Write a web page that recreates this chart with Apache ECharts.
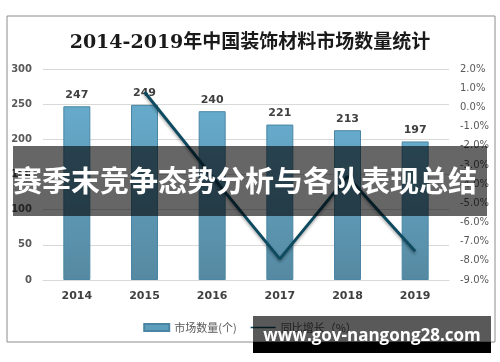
<!DOCTYPE html>
<html>
<head>
<meta charset="utf-8">
<script src="https://cdn.jsdelivr.net/npm/echarts@6/dist/echarts.min.js"></script>
<style>
html,body{margin:0;padding:0;background:#fff;}
#c{width:500px;height:362px;}
</style>
</head>
<body>
<div id="c"></div>
<script>
const categories = ['2014', '2015', '2016', '2017', '2018', '2019'];
const marketCount = [247, 249, 240, 221, 213, 197];
const yoyGrowth = [null, 0.8, -3.6, -7.9, -3.6, -7.5];
const leftTicks = {min: 0, max: 300, interval: 50};
const rightTicks = {min: -9, max: 2, interval: 1};
const titleText = '2014-2019年中国装饰材料市场数量统计';
const seriesNames = ['市场数量(个)', '同比增长（%）'];
const bannerText = '赛季末竞争态势分析与各队表现总结';
const watermarkText = 'www.gov-nangong28.com';

const chart = echarts.init(document.getElementById('c'), null, {renderer: 'canvas'});
const cjk = '"Noto Sans CJK SC", "DejaVu Sans", sans-serif';
chart.setOption({
  animation: false,
  backgroundColor: '#fff',
  title: {
    text: titleText,
    left: 'center',
    top: 29,
    textStyle: {
      fontFamily: '"DejaVu Serif", "Noto Sans CJK SC", serif',
      fontSize: 19, fontWeight: 'bold', color: '#1a1a1a'
    }
  },
  grid: {left: 43, right: 51, top: 69, bottom: 82, containLabel: false},
  legend: {
    left: 'center', top: 317,
    itemGap: 14,
    textStyle: {fontFamily: cjk, fontSize: 11, color: '#595959'},
    data: [
      {name: seriesNames[0], icon: 'rect', itemStyle: {color: '#5D9EBD'}},
      {name: seriesNames[1], icon: 'path://M0,0H50V3H0Z M0,-2H0.1V5H0Z', itemStyle: {color: '#0E4A60', borderWidth: 0}}
    ],
    itemWidth: 25, itemHeight: 7
  },
  xAxis: {
    type: 'category',
    data: categories,
    axisLine: {lineStyle: {color: '#d9d9d9', width: 1}},
    axisTick: {show: false},
    axisLabel: {fontFamily: '"DejaVu Sans", sans-serif', fontSize: 11, fontWeight: 'bold', color: '#404040', margin: 11}
  },
  yAxis: [
    {
      type: 'value', min: leftTicks.min, max: leftTicks.max, interval: leftTicks.interval,
      axisLine: {show: false}, axisTick: {show: false},
      splitLine: {lineStyle: {color: '#d9d9d9', width: 1}},
      axisLabel: {fontFamily: '"DejaVu Sans", sans-serif', fontSize: 10, fontWeight: 'bold', color: '#595959', margin: 11}
    },
    {
      type: 'value', min: rightTicks.min, max: rightTicks.max, interval: rightTicks.interval,
      axisLine: {show: false}, axisTick: {show: false},
      splitLine: {show: false},
      axisLabel: {fontFamily: '"DejaVu Sans", sans-serif', fontSize: 10, color: '#595959', margin: 11,
        formatter: v => v.toFixed(1) + '%'}
    }
  ],
  series: [
    {
      name: seriesNames[0],
      type: 'bar',
      data: marketCount,
      barWidth: 27,
      itemStyle: {
        color: new echarts.graphic.LinearGradient(0, 0, 0, 1, [
          {offset: 0, color: '#66AACB'},
          {offset: 1, color: '#5689A1'}
        ]),
        borderColor: '#4A86A3', borderWidth: 1
      },
      label: {show: true, position: 'top', distance: 6,
        fontFamily: '"DejaVu Sans", sans-serif', fontSize: 11, fontWeight: 'bold', color: '#404040'}
    },
    {
      name: seriesNames[1],
      type: 'line',
      yAxisIndex: 1,
      data: yoyGrowth,
      showSymbol: false,
      symbol: 'none',
      lineStyle: {color: '#0E4A60', width: 3, shadowColor: 'rgba(0,0,0,0.35)', shadowBlur: 3, shadowOffsetY: 2},
      itemStyle: {color: '#0E4A60'}
    }
  ],
  graphic: [
    {type: 'rect', shape: {x: 7, y: 16, width: 488, height: 326}, style: {fill: null, stroke: '#8c8c8c', lineWidth: 1}, z: 100},
    {type: 'rect', shape: {x: 13, y: 146, width: 474, height: 70}, style: {fill: 'rgba(0,0,0,0.6)'}, z: 200},
    {type: 'text', x: 13, y: 181, style: {text: bannerText, fill: '#fff', font: 'bold 29px "Noto Sans CJK SC", sans-serif', textVerticalAlign: 'middle', textAlign: 'left'}, z: 201},
    {type: 'rect', shape: {x: 253, y: 316, width: 238, height: 37}, style: {fill: 'rgba(0,0,0,0.65)'}, z: 200},
    {type: 'rect', shape: {x: 253, y: 342, width: 238, height: 11}, style: {fill: '#000'}, z: 200},
    {type: 'text', x: 372, y: 336, style: {text: watermarkText, fill: '#fff', font: 'bold 17px "Open Sans", sans-serif', textVerticalAlign: 'middle', textAlign: 'center'}, z: 201}
  ]
});
</script>
</body>
</html>
